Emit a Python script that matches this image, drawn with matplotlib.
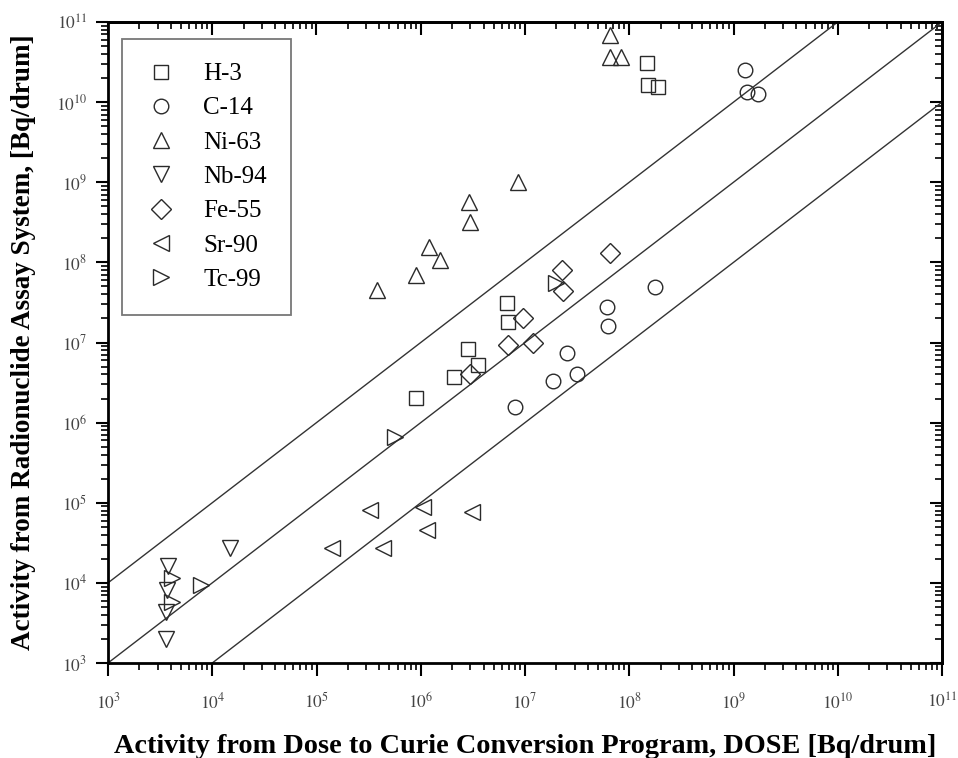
import matplotlib
matplotlib.use("Agg")
import matplotlib.pyplot as plt
from matplotlib.ticker import LogLocator, FixedLocator, NullFormatter

plt.rcParams['font.family'] = ['Liberation Serif', 'DejaVu Serif']
plt.rcParams['mathtext.fontset'] = 'stix'

# ---- data ----
h3_x = [1.48e8, 1.51e8, 1.89e8, 6.7e6, 6.9e6, 2.84e6, 2.08e6, 3.54e6, 9.0e5]
h3_y = [3.1e10, 1.65e10, 1.56e10, 3.1e7, 1.8e7, 8.3e6, 3.7e6, 5.25e6, 2.03e6]

c14_x = [1.29e9, 1.35e9, 1.72e9, 1.77e8, 6.12e7, 6.25e7, 2.53e7, 3.15e7, 1.86e7, 8.0e6]
c14_y = [2.53e10, 1.35e10, 1.27e10, 4.94e7, 2.78e7, 1.61e7, 7.41e6, 4.06e6, 3.32e6, 1.57e6]

ni63_x = [6.53e7, 6.53e7, 8.34e7, 8.57e6, 2.9e6, 2.96e6, 1.2e6, 1.53e6, 9.0e5, 3.8e5]
ni63_y = [6.9e10, 3.68e10, 3.68e10, 1.01e9, 5.7e8, 3.2e8, 1.57e8, 1.08e8, 7.0e7, 4.55e7]

nb94_x = [1.48e4, 3.76e3, 3.65e3, 3.6e3, 3.6e3]
nb94_y = [2.73e4, 1.63e4, 8.15e3, 4.33e3, 2.0e3]

fe55_x = [6.53e7, 2.26e7, 2.32e7, 9.57e6, 6.87e6, 1.19e7, 2.97e6]
fe55_y = [1.31e8, 8.06e7, 4.41e7, 2.03e7, 9.33e6, 9.9e6, 4.06e6]

sr90_x = [3.26e5, 1.05e6, 3.1e6, 1.15e6, 1.41e5, 4.35e5]
sr90_y = [8.13e4, 8.86e4, 7.67e4, 4.57e4, 2.73e4, 2.73e4]

tc99_x = [4.11e3, 4.11e3, 7.8e3, 5.66e5, 1.98e7]
tc99_y = [1.15e4, 5.78e3, 9.4e3, 6.6e5, 5.55e7]

line_ratios = [10.0, 1.0, 0.1]
axis_range = [1e3, 1e11]
decades = [3, 4, 5, 6, 7, 8, 9, 10, 11]

series = [
    ("H-3", h3_x, h3_y, 's', 10.0),
    ("C-14", c14_x, c14_y, 'o', 10.5),
    ("Ni-63", ni63_x, ni63_y, '^', 12.0),
    ("Nb-94", nb94_x, nb94_y, 'v', 12.0),
    ("Fe-55", fe55_x, fe55_y, 'D', 10.5),
    ("Sr-90", sr90_x, sr90_y, '<', 12.0),
    ("Tc-99", tc99_x, tc99_y, '>', 12.0),
]

fig = plt.figure(figsize=(9.58, 7.58), dpi=100)
ax = fig.add_axes([108/958, 1 - 663/758, 834/958, 641/758])
ax.set_xscale('log')
ax.set_yscale('log')
ax.set_xlim(axis_range)
ax.set_ylim(axis_range)

for r in line_ratios:
    ax.plot(axis_range, [axis_range[0]*r, axis_range[1]*r], color='#333333',
            lw=1.0, zorder=1)

for name, xs, ys, m, ms in series:
    ax.plot(xs, ys, linestyle='none', marker=m, markersize=ms,
            markerfacecolor='none', markeredgecolor='#2a2a2a',
            markeredgewidth=1.0, label=name, zorder=3)

ticks = [10.0**d for d in decades]
for axis in (ax.xaxis, ax.yaxis):
    axis.set_major_locator(FixedLocator(ticks))
    axis.set_minor_locator(LogLocator(base=10, subs=range(2, 10), numticks=50))
    axis.set_minor_formatter(NullFormatter())
ax.set_xticklabels([r"$10^{%d}$" % d for d in decades])
ax.set_yticklabels([r"$10^{%d}$" % d for d in decades])

ax.tick_params(which='major', direction='out', length=9, width=1.5,
               labelsize=12.5, labelcolor='#444444', pad=12)
ax.tick_params(which='minor', direction='out', length=5, width=1.2)
ax.tick_params(axis='y', which='major', pad=6)

# inward ticks on top and right
axt = ax.secondary_xaxis('top')
axt.xaxis.set_major_locator(FixedLocator(ticks))
axt.xaxis.set_minor_locator(LogLocator(base=10, subs=range(2, 10), numticks=50))
axt.tick_params(which='major', direction='in', length=9, width=1.5, labeltop=False)
axt.tick_params(which='minor', direction='in', length=5, width=1.2)
axt.xaxis.set_major_formatter(NullFormatter())
axt.xaxis.set_minor_formatter(NullFormatter())
axr = ax.secondary_yaxis('right')
axr.yaxis.set_major_locator(FixedLocator(ticks))
axr.yaxis.set_minor_locator(LogLocator(base=10, subs=range(2, 10), numticks=50))
axr.tick_params(which='major', direction='in', length=9, width=1.5, labelright=False)
axr.tick_params(which='minor', direction='in', length=5, width=1.2)
axr.yaxis.set_major_formatter(NullFormatter())
axr.yaxis.set_minor_formatter(NullFormatter())
axt.spines['top'].set_linewidth(2.0)
axr.spines['right'].set_linewidth(2.0)

for s in ax.spines.values():
    s.set_linewidth(2.0)

ax.set_xlabel("Activity from Dose to Curie Conversion Program, DOSE [Bq/drum]",
              fontsize=20.3, fontweight='bold', labelpad=16)
ax.set_ylabel("Activity from Radionuclide Assay System, [Bq/drum]",
              fontsize=19.5, fontweight='bold', labelpad=14)

leg = ax.legend(loc='upper left', bbox_to_anchor=(14/834, (663-39)/641),
                borderaxespad=0, fontsize=18, frameon=True, fancybox=False,
                borderpad=0.95, labelspacing=0.47, handlelength=1.24,
                handletextpad=1.06, numpoints=1)
leg.get_frame().set_edgecolor('#555555')
leg.get_frame().set_linewidth(1.3)

fig.savefig("out.png", dpi=100)
